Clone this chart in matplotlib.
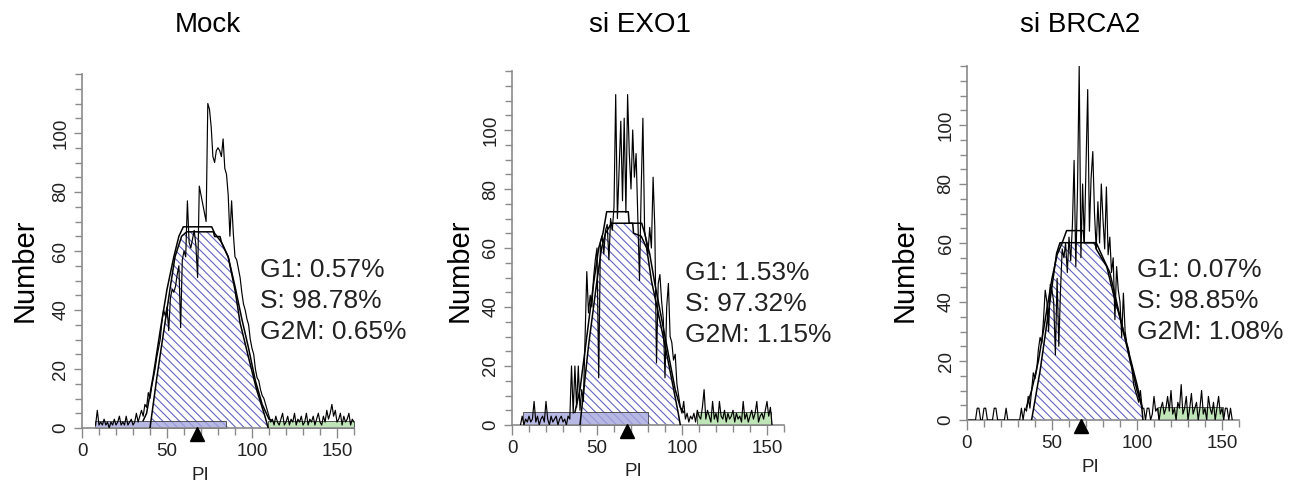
import numpy as np
import matplotlib
matplotlib.use('Agg')
import matplotlib.pyplot as plot
from matplotlib.ticker import MultipleLocator, FixedLocator

plot.rcParams['font.family'] = ['Liberation Sans', 'DejaVu Sans']
plot.rcParams['hatch.linewidth'] = 0.8

W, H = 1289, 484

titles = ['Mock', 'si EXO1', 'si BRCA2']
phase_text = [['G1: 0.57%', 'S: 98.78%', 'G2M: 0.65%'],
              ['G1: 1.53%', 'S: 97.32%', 'G2M: 1.15%'],
              ['G1: 0.07%', 'S: 98.85%', 'G2M: 1.08%']]

# raw PI histograms: first channel + counts per channel
mock_start = 8
mock_counts = [1, 6, 1, 2, 1, 3, 1, 2, 0, 2, 1, 3, 1, 2, 4, 1, 2, 1, 4, 1, 2, 3, 1, 2, 5,
               2, 4, 6, 4, 8, 7, 12, 10, 14, 17, 20, 24, 27, 30, 36, 40, 38, 41, 33, 44,
               47, 46, 48, 52, 55, 34, 57, 60, 58, 77, 63, 61, 64, 67, 62, 51, 82, 79, 76,
               73, 70, 110, 108, 102, 92, 90, 94, 95, 94, 92, 98, 88, 86, 79, 65, 77, 66,
               58, 57, 54, 51, 46, 42, 40, 37, 35, 30, 27, 25, 20, 17, 16, 13, 11, 10, 8,
               6, 4, 2, 3, 1, 4, 2, 1, 3, 5, 1, 2, 4, 1, 3, 2, 5, 1, 3, 2, 4, 1, 2, 5, 1,
               3, 2, 4, 1, 3, 5, 2, 1, 4, 2, 6, 3, 5, 8, 4, 6, 2, 3, 5, 1, 4, 2, 3, 5, 1,
               3, 2]

exo1_start = 5
exo1_counts = [0, 3, 0, 2, 1, 3, 1, 2, 8, 1, 3, 0, 2, 3, 1, 8, 2, 0, 3, 1, 2, 3, 0, 2,
               3, 1, 2, 0, 3, 2, 20, 4, 20, 6, 20, 5, 12, 8, 30, 52, 38, 44, 40, 50, 56,
               60, 16, 62, 64, 58, 66, 68, 56, 70, 66, 74, 112, 70, 86, 103, 76, 104, 72,
               112, 92, 80, 100, 84, 92, 70, 49, 80, 104, 66, 62, 58, 67, 60, 84, 67, 21,
               48, 51, 42, 36, 16, 40, 48, 30, 28, 22, 24, 14, 10, 6, 4, 8, 2, 4, 1, 3, 2,
               4, 1, 5, 3, 2, 6, 12, 2, 5, 3, 1, 8, 2, 4, 1, 8, 3, 2, 5, 1, 4, 2, 3, 5, 1,
               4, 2, 3, 1, 8, 2, 4, 1, 3, 5, 2, 4, 8, 1, 3, 4, 2, 5, 8, 3, 6, 0]

brca2_start = 1
brca2_counts = [0, 0, 0, 0, 0, 4, 4, 0, 0, 4, 4, 0, 0, 0, 0, 4, 4, 0, 0, 0, 0, 0, 4, 0,
                0, 0, 0, 0, 0, 0, 0, 4, 0, 4, 3, 8, 4, 10, 16, 14, 17, 24, 28, 26, 34, 44,
                40, 30, 46, 44, 40, 22, 48, 25, 44, 58, 55, 60, 50, 62, 54, 66, 88, 52, 78,
                120, 55, 80, 60, 86, 112, 64, 82, 91, 70, 58, 74, 60, 80, 68, 58, 79, 56,
                62, 50, 55, 34, 52, 44, 40, 28, 43, 30, 26, 24, 20, 18, 12, 10, 8, 6, 10, 4,
                4, 0, 4, 4, 0, 2, 8, 3, 4, 0, 4, 6, 2, 4, 8, 3, 10, 2, 4, 0, 6, 4, 12, 2, 4,
                8, 0, 4, 9, 2, 4, 6, 0, 4, 10, 2, 4, 0, 8, 4, 2, 6, 0, 4, 8, 2, 4, 0, 4, 4,
                0, 4, 0]

# S phase model (hatched area)
mock_s_x = [40, 44, 48.8, 52, 54.7, 58.6, 61.6, 77.3, 78, 81.2, 82, 86, 90, 93, 97.8, 102.7, 107.6, 109.5]
mock_s_y = [0, 17, 35.6, 48, 58, 65, 66.5, 66.5, 64.9, 64.9, 63, 58, 46.8, 35.6, 24.3, 13, 4, 0]
exo1_s_x = [40, 45, 50, 52.7, 55, 58.5, 71, 71.5, 76, 79.2, 82, 86, 90, 94, 97.8, 99]
exo1_s_y = [0, 26.8, 49, 60, 65, 68.4, 68.4, 65, 64, 60, 49, 38, 27, 15.3, 4, 0]
brca2_s_x = [38, 43, 46.9, 50.8, 52.7, 54.7, 75.3, 76, 79, 82.2, 86, 91, 96, 100, 102.7, 103.5]
brca2_s_y = [0, 16.7, 32.5, 48.6, 56.5, 60.1, 60.1, 58, 55, 52, 43, 32.5, 21, 12, 5, 0]

# total model outline
mock_fit_x = [36, 38, 42, 46, 50, 54, 57, 59.6, 76.3, 78, 82, 86, 90, 94, 98, 102, 106, 110, 112]
mock_fit_y = [2.5, 5, 18, 33, 47, 58, 65, 68.2, 68.2, 66, 63, 58, 48, 37, 27, 16, 8, 3, 2.5]
exo1_fit_x = [37, 40, 44, 48, 51, 53.5, 55.7, 68.4, 68.9, 76.3, 78, 81, 84, 88, 92, 96, 99, 101]
exo1_fit_y = [4.3, 12, 30, 48, 60, 65, 72.3, 72.3, 68.4, 68.4, 65, 58, 48, 36, 24, 12, 6, 4.3]
brca2_fit_x = [35, 38, 42, 46, 50, 53, 56, 58.6, 68.4, 69, 76, 80, 84, 88, 92, 96, 100, 103]
brca2_fit_y = [4.3, 10, 20, 34, 48, 56, 60.1, 64.2, 64.2, 60.1, 60.1, 55, 50, 40, 30, 20, 10, 4.3]

# G1 / G2M components: start, end, height
mock_g1 = [7.6, 85, 2.5]
mock_g2m = [109.6, 160, 2.5]
exo1_g1 = [6.7, 80, 4.3]
exo1_g2m = [108.6, 152.5, 4.3]
brca2_g1 = None
brca2_g2m = [112.5, 150.5, 4.3]

# mean marker on PI axis
means = [67.5, 67.5, 67]


def drawPanel(ax, start, counts, sx, sy, fx, fy, g1, g2m, mean):
    x = np.arange(start, start + len(counts))
    ax.fill_between(sx, 0, sy, facecolor='white', edgecolor='#6464c0',
                    hatch='\\\\\\\\', linewidth=0, zorder=1)
    for band, col in ((g1, '#a6a6df'), (g2m, '#b0dea5')):
        if band is None:
            continue
        ax.fill_between([band[0], band[1]], 0, band[2], facecolor=col, alpha=0.8,
                        edgecolor='#333333', linewidth=0.7, zorder=2)
    ax.plot(sx, sy, color='black', lw=1.1, zorder=3)
    ax.plot(fx, fy, color='black', lw=1.1, zorder=3)
    ax.plot(x, counts, color='black', lw=0.85, zorder=4)
    ax.plot(mean, -2.2, marker='^', color='black', ms=10, clip_on=False, zorder=5)

    ax.set_xlim(0, 160)
    ax.set_ylim(0, 120)
    for s in ['top', 'right']:
        ax.spines[s].set_visible(False)
    for s in ['left', 'bottom']:
        ax.spines[s].set_color('#8a8a8a')
        ax.spines[s].set_linewidth(1.2)
    ax.xaxis.set_major_locator(FixedLocator([0, 50, 100, 150]))
    ax.xaxis.set_minor_locator(MultipleLocator(10))
    ax.yaxis.set_major_locator(FixedLocator([0, 20, 40, 60, 80, 100]))
    ax.yaxis.set_minor_locator(MultipleLocator(5))
    ax.tick_params(axis='both', which='both', direction='out', color='#8a8a8a', width=1)
    ax.tick_params(axis='x', which='major', length=7, labelsize=13.5, labelcolor='#222222', pad=4)
    ax.tick_params(axis='x', which='minor', length=5)
    ax.tick_params(axis='y', which='major', length=6, labelsize=13.5, labelcolor='#222222', pad=3)
    ax.tick_params(axis='y', which='minor', length=5)
    for lab in ax.get_yticklabels():
        lab.set_rotation(90)
        lab.set_va('center')


def main():
    fig = plot.figure(figsize=(W / 100, H / 100), dpi=100)

    # axes origin in pixels (x of y-axis, y of x-axis from top)
    origins = [(82, 428), (512, 425), (967, 420)]
    title_x = [208, 640, 1080]
    number_x = [25, 460, 905]
    pi_pos = [(200, 475), (633, 472), (1090, 468)]
    text_pos = [(260, 270), (685, 273), (1137, 270)]

    data = [
        (mock_start, mock_counts, mock_s_x, mock_s_y, mock_fit_x, mock_fit_y, mock_g1, mock_g2m),
        (exo1_start, exo1_counts, exo1_s_x, exo1_s_y, exo1_fit_x, exo1_fit_y, exo1_g1, exo1_g2m),
        (brca2_start, brca2_counts, brca2_s_x, brca2_s_y, brca2_fit_x, brca2_fit_y, brca2_g1, brca2_g2m),
    ]

    for i in range(3):
        ox, oy = origins[i]
        ax = fig.add_axes([ox / W, (H - oy) / H, 272 / W, 354 / H])
        drawPanel(ax, *data[i], means[i])

        fig.text(title_x[i] / W, 1 - 25 / H, titles[i], ha='center', va='center', fontsize=20)
        fig.text(number_x[i] / W, 1 - 270 / H, 'Number', rotation=90, ha='center',
                 va='center', fontsize=21)
        fig.text(pi_pos[i][0] / W, 1 - pi_pos[i][1] / H, 'PI', ha='center', va='center',
                 fontsize=13.5, color='#222222')
        tx, ty = text_pos[i]
        for j, line in enumerate(phase_text[i]):
            fig.text(tx / W, 1 - (ty + 31 * j) / H, line, ha='left', va='center',
                     fontsize=19, color='#222222')

    fig.savefig('out.png', dpi=100)


if __name__ == "__main__":
    main()
